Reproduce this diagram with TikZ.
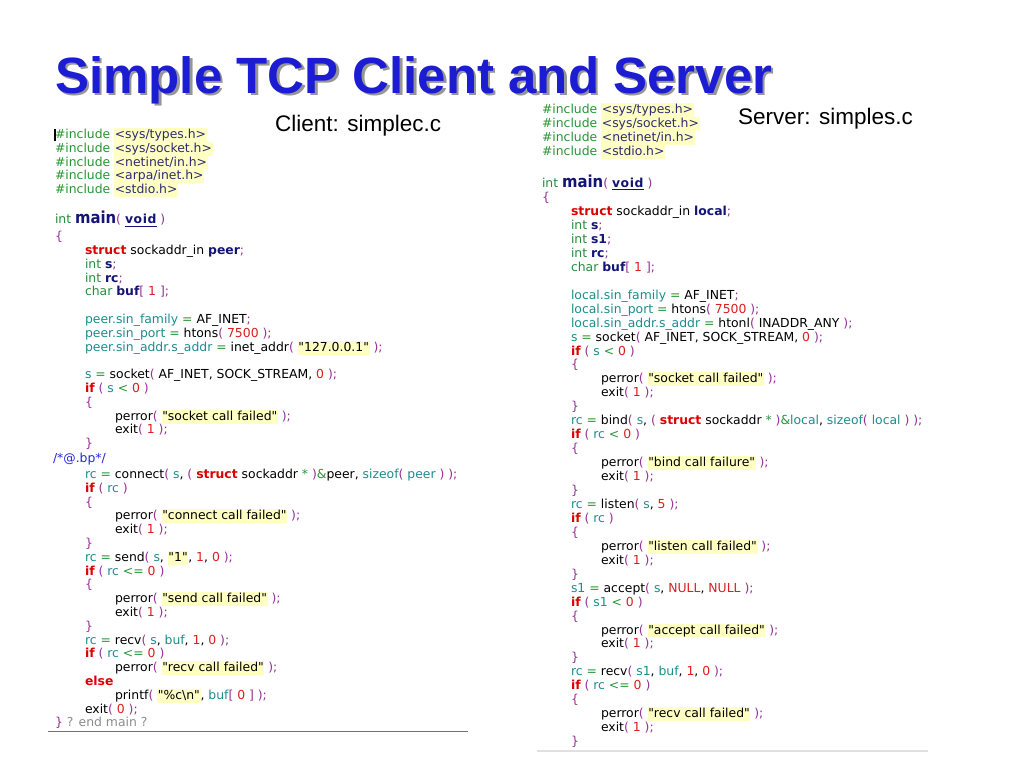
\documentclass[tikz,border=0pt]{standalone}
\usepackage{fontspec}
\setmainfont{Liberation Sans}
\newfontfamily\codefont{DejaVu Sans}
\newfontfamily\condfont{DejaVu Sans Condensed}
\definecolor{ctitle}{RGB}{28,28,210}
\definecolor{cshadow}{RGB}{150,150,150}
\definecolor{cinc}{RGB}{40,150,50}
\definecolor{chdr}{RGB}{45,45,110}
\definecolor{hly}{RGB}{255,255,196}
\definecolor{cty}{RGB}{40,140,60}
\definecolor{cdecl}{RGB}{20,20,120}
\definecolor{cpun}{RGB}{150,50,150}
\definecolor{ckw}{RGB}{220,0,0}
\definecolor{cnum}{RGB}{220,30,30}
\definecolor{cva}{RGB}{30,140,140}
\definecolor{cop}{RGB}{40,150,60}
\definecolor{ccm}{RGB}{40,40,220}
\definecolor{cgr}{RGB}{140,140,140}
\newcommand\Chl[1]{\begingroup\setlength\fboxsep{0pt}\colorbox{hly}{\kern0.6pt\rule[-3.4pt]{0pt}{13.9pt}#1\kern0.6pt}\endgroup}
\newcommand\Cp[1]{{\color{cpun}#1}}
\newcommand\Ckw[1]{{\color{ckw}\bfseries #1}}
\newcommand\Cty[1]{{\color{cty}#1}}
\newcommand\Cva[1]{{\color{cva}#1}}
\newcommand\Cop[1]{{\color{cop}#1}}
\newcommand\Cnum[1]{{\color{cnum}#1}}
\newcommand\Cdecl[1]{{\color{cdecl}\bfseries #1}}
\newcommand\Cstr[1]{\Chl{#1}}
\newcommand\Cinc[1]{{\color{cinc}\#include} \Chl{\color{chdr}#1}}
\newcommand\Cvoid{\setbox0=\hbox{\color{cdecl}\bfseries v\kern0.6pt o\kern0.6pt i\kern0.6pt d}\rlap{\color{cdecl}\rule[-3.2pt]{\wd0}{1.1pt}}\box0}
\newcommand\Cmain{\Cty{int} {\color{cdecl}\condfont\fontsize{16.5}{16.5}\selectfont\bfseries main}\Cp{(} \Cvoid{} \Cp{)}}
\newcommand\CL[4]{\node[codeline] (#1) at (#2,#3) {#4};}
\begin{document}
\begin{tikzpicture}[x=1pt,y=-1pt,
  codeline/.style={font=\codefont\fontsize{12.4}{13.8}\selectfont, inner sep=0pt, outer sep=0pt, anchor=base west},
  titletxt/.style={font=\fontsize{51}{51}\selectfont\bfseries, inner sep=0pt, anchor=base west},
  filelabel/.style={font=\fontsize{22.5}{22.5}\selectfont, inner sep=0pt, anchor=base west},
  clientrule/.style={draw=gray!90!black, line width=1.5pt},
  serverrule/.style={draw=black!12, line width=2pt}]
\useasboundingbox (0,0) rectangle (1024,768);
\fill[white] (0,0) rectangle (1024,768);
% title
\node[titletxt, text=cshadow] (titleshadow) at (57.5,95.5) {Simple TCP Client and Server};
\node[titletxt, text=ctitle] (title) at (55,93) {Simple TCP Client and Server};
\node[filelabel] (clientlabel) at (275,131) {Client: simplec.c};
\node[filelabel] (serverlabel) at (738,124) {Server: simples.c};
% ---------------- client ----------------
\fill[black] (53.5,128.5) rectangle (55.6,141);
\CL{c1}{55}{138.5}{\Cinc{<sys/types.h>}}
\CL{c2}{55}{152.3}{\Cinc{<sys/socket.h>}}
\CL{c3}{55}{166.0}{\Cinc{<netinet/in.h>}}
\CL{c4}{55}{179.8}{\Cinc{<arpa/inet.h>}}
\CL{c5}{55}{193.5}{\Cinc{<stdio.h>}}
\CL{c6}{55}{223.5}{\Cmain}
\CL{c7}{55}{240.5}{\Cp{\{}}
\CL{c8}{85}{254.5}{\Ckw{struct} sockaddr\_in \Cdecl{peer}\Cp{;}}
\CL{c9}{85}{268.3}{\Cty{int} \Cdecl{s}\Cp{;}}
\CL{c10}{85}{282.1}{\Cty{int} \Cdecl{rc}\Cp{;}}
\CL{c11}{85}{295.9}{\Cty{char} \Cdecl{buf}\Cp{[} \Cnum{1} \Cp{];}}
\CL{c12}{85}{323.5}{\Cva{peer.sin\_family} \Cop{=} AF\_INET\Cp{;}}
\CL{c13}{85}{337.3}{\Cva{peer.sin\_port} \Cop{=} htons\Cp{(} \Cnum{7500} \Cp{);}}
\CL{c14}{85}{351.1}{\Cva{peer.sin\_addr.s\_addr} \Cop{=} inet\_addr\Cp{(} \Cstr{"127.0.0.1"} \Cp{);}}
\CL{c15}{85}{378.7}{\Cva{s} \Cop{=} socket\Cp{(} AF\_INET, SOCK\_STREAM, \Cnum{0} \Cp{);}}
\CL{c16}{85}{392.5}{\Ckw{if} \Cp{(} \Cva{s} \Cop{<} \Cnum{0} \Cp{)}}
\CL{c17}{85}{406.3}{\Cp{\{}}
\CL{c18}{115}{420.1}{perror\Cp{(} \Cstr{"socket call failed"} \Cp{);}}
\CL{c19}{115}{433.9}{exit\Cp{(} \Cnum{1} \Cp{);}}
\CL{c20}{85}{447.7}{\Cp{\}}}
\CL{c21}{53}{462.0}{{\color{ccm}/*@.bp*/}}
\CL{c22}{85}{478.5}{\Cva{rc} \Cop{=} connect\Cp{(} \Cva{s}, \Cp{(} \Ckw{struct} sockaddr \Cop{*} \Cp{)}\Cop{\&}peer, \Cva{sizeof}\Cp{(} \Cva{peer} \Cp{) );}}
\CL{c23}{85}{492.3}{\Ckw{if} \Cp{(} \Cva{rc} \Cp{)}}
\CL{c24}{85}{506.1}{\Cp{\{}}
\CL{c25}{115}{519.9}{perror\Cp{(} \Cstr{"connect call failed"} \Cp{);}}
\CL{c26}{115}{533.7}{exit\Cp{(} \Cnum{1} \Cp{);}}
\CL{c27}{85}{547.5}{\Cp{\}}}
\CL{c28}{85}{561.3}{\Cva{rc} \Cop{=} send\Cp{(} \Cva{s}, \Cstr{"1"}, \Cnum{1}, \Cnum{0} \Cp{);}}
\CL{c29}{85}{575.1}{\Ckw{if} \Cp{(} \Cva{rc} \Cop{<=} \Cnum{0} \Cp{)}}
\CL{c30}{85}{588.9}{\Cp{\{}}
\CL{c31}{115}{602.7}{perror\Cp{(} \Cstr{"send call failed"} \Cp{);}}
\CL{c32}{115}{616.5}{exit\Cp{(} \Cnum{1} \Cp{);}}
\CL{c33}{85}{630.3}{\Cp{\}}}
\CL{c34}{85}{644.1}{\Cva{rc} \Cop{=} recv\Cp{(} \Cva{s}, \Cva{buf}, \Cnum{1}, \Cnum{0} \Cp{);}}
\CL{c35}{85}{657.9}{\Ckw{if} \Cp{(} \Cva{rc} \Cop{<=} \Cnum{0} \Cp{)}}
\CL{c36}{115}{671.7}{perror\Cp{(} \Cstr{"recv call failed"} \Cp{);}}
\CL{c37}{85}{685.5}{\Ckw{else}}
\CL{c38}{115}{699.3}{printf\Cp{(} \Cstr{"\%c\textbackslash n"}, \Cva{buf}\Cp{[} \Cnum{0} \Cp{] );}}
\CL{c39}{85}{713.1}{exit\Cp{(} \Cnum{0} \Cp{);}}
\CL{c40}{55}{726.9}{\Cp{\}} {\color{cgr}? end main ?}}
\coordinate (crl) at (48,731.5);
\coordinate (crr) at (468,731.5);
\draw[clientrule] (crl) -- (crr);
% ---------------- server ----------------
\CL{s1}{542}{113.5}{\Cinc{<sys/types.h>}}
\CL{s2}{542}{127.5}{\Cinc{<sys/socket.h>}}
\CL{s3}{542}{141.5}{\Cinc{<netinet/in.h>}}
\CL{s4}{542}{155.5}{\Cinc{<stdio.h>}}
\CL{s5}{542}{187.0}{\Cmain}
\CL{s6}{542}{201.5}{\Cp{\{}}
\CL{s7}{571}{215.5}{\Ckw{struct} sockaddr\_in \Cdecl{local}\Cp{;}}
\CL{s8}{571}{229.45}{\Cty{int} \Cdecl{s}\Cp{;}}
\CL{s9}{571}{243.4}{\Cty{int} \Cdecl{s1}\Cp{;}}
\CL{s10}{571}{257.35}{\Cty{int} \Cdecl{rc}\Cp{;}}
\CL{s11}{571}{271.3}{\Cty{char} \Cdecl{buf}\Cp{[} \Cnum{1} \Cp{];}}
\CL{s12}{571}{299.2}{\Cva{local.sin\_family} \Cop{=} AF\_INET\Cp{;}}
\CL{s13}{571}{313.15}{\Cva{local.sin\_port} \Cop{=} htons\Cp{(} \Cnum{7500} \Cp{);}}
\CL{s14}{571}{327.1}{\Cva{local.sin\_addr.s\_addr} \Cop{=} htonl\Cp{(} INADDR\_ANY \Cp{);}}
\CL{s15}{571}{341.05}{\Cva{s} \Cop{=} socket\Cp{(} AF\_INET, SOCK\_STREAM, \Cnum{0} \Cp{);}}
\CL{s16}{571}{355.0}{\Ckw{if} \Cp{(} \Cva{s} \Cop{<} \Cnum{0} \Cp{)}}
\CL{s17}{571}{368.95}{\Cp{\{}}
\CL{s18}{601}{382.9}{perror\Cp{(} \Cstr{"socket call failed"} \Cp{);}}
\CL{s19}{601}{396.85}{exit\Cp{(} \Cnum{1} \Cp{);}}
\CL{s20}{571}{410.8}{\Cp{\}}}
\CL{s21}{571}{424.75}{\Cva{rc} \Cop{=} bind\Cp{(} \Cva{s}, \Cp{(} \Ckw{struct} sockaddr \Cop{*} \Cp{)}\Cop{\&}\Cva{local}, \Cva{sizeof}\Cp{(} \Cva{local} \Cp{) );}}
\CL{s22}{571}{438.7}{\Ckw{if} \Cp{(} \Cva{rc} \Cop{<} \Cnum{0} \Cp{)}}
\CL{s23}{571}{452.65}{\Cp{\{}}
\CL{s24}{601}{466.6}{perror\Cp{(} \Cstr{"bind call failure"} \Cp{);}}
\CL{s25}{601}{480.55}{exit\Cp{(} \Cnum{1} \Cp{);}}
\CL{s26}{571}{494.5}{\Cp{\}}}
\CL{s27}{571}{508.45}{\Cva{rc} \Cop{=} listen\Cp{(} \Cva{s}, \Cnum{5} \Cp{);}}
\CL{s28}{571}{522.4}{\Ckw{if} \Cp{(} \Cva{rc} \Cp{)}}
\CL{s29}{571}{536.35}{\Cp{\{}}
\CL{s30}{601}{550.3}{perror\Cp{(} \Cstr{"listen call failed"} \Cp{);}}
\CL{s31}{601}{564.25}{exit\Cp{(} \Cnum{1} \Cp{);}}
\CL{s32}{571}{578.2}{\Cp{\}}}
\CL{s33}{571}{592.15}{\Cva{s1} \Cop{=} accept\Cp{(} \Cva{s}, \Cnum{NULL}, \Cnum{NULL} \Cp{);}}
\CL{s34}{571}{606.1}{\Ckw{if} \Cp{(} \Cva{s1} \Cop{<} \Cnum{0} \Cp{)}}
\CL{s35}{571}{620.05}{\Cp{\{}}
\CL{s36}{601}{634.0}{perror\Cp{(} \Cstr{"accept call failed"} \Cp{);}}
\CL{s37}{601}{647.95}{exit\Cp{(} \Cnum{1} \Cp{);}}
\CL{s38}{571}{661.9}{\Cp{\}}}
\CL{s39}{571}{675.85}{\Cva{rc} \Cop{=} recv\Cp{(} \Cva{s1}, \Cva{buf}, \Cnum{1}, \Cnum{0} \Cp{);}}
\CL{s40}{571}{689.8}{\Ckw{if} \Cp{(} \Cva{rc} \Cop{<=} \Cnum{0} \Cp{)}}
\CL{s41}{571}{703.75}{\Cp{\{}}
\CL{s42}{601}{717.7}{perror\Cp{(} \Cstr{"recv call failed"} \Cp{);}}
\CL{s43}{601}{731.65}{exit\Cp{(} \Cnum{1} \Cp{);}}
\CL{s44}{571}{745.6}{\Cp{\}}}
\coordinate (srl) at (537,750.5);
\coordinate (srr) at (928,750.5);
\draw[serverrule] (srl) -- (srr);
\end{tikzpicture}
\end{document}
